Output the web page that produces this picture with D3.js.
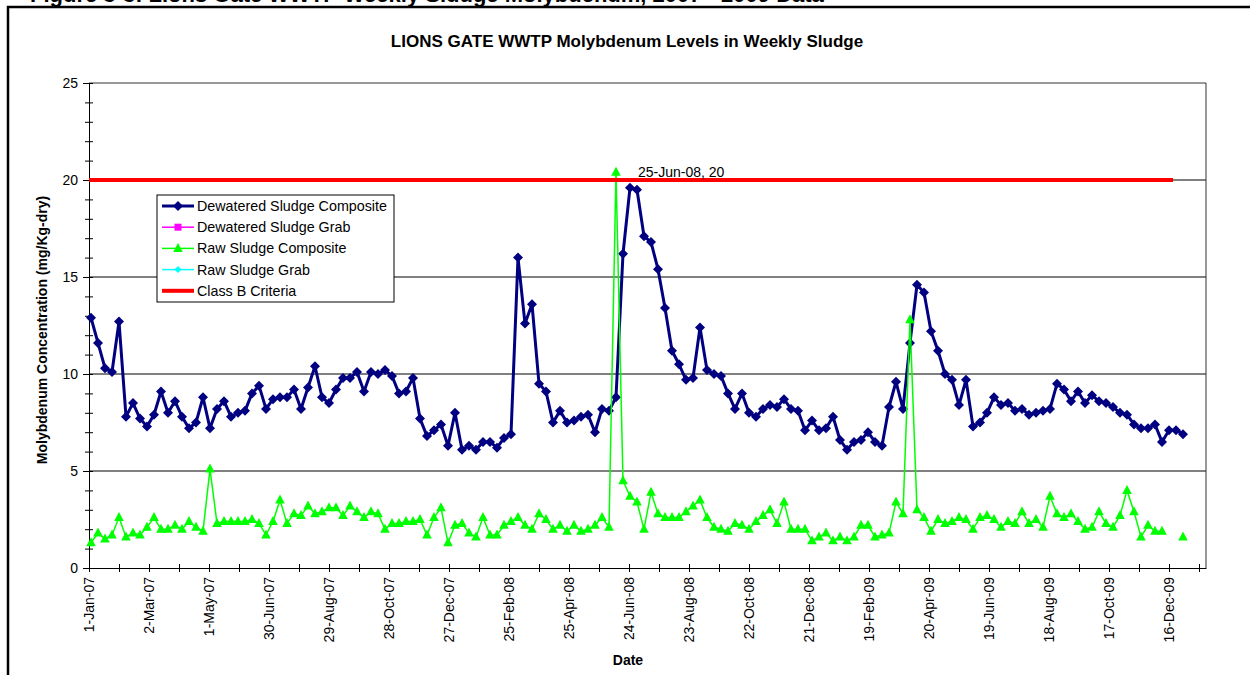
<!DOCTYPE html>
<html lang="en">
<head>
<meta charset="UTF-8">
<title>Lions Gate WWTP Molybdenum Levels</title>
<script src="https://d3js.org/d3.v7.min.js"></script>
<style>
  body { margin: 0; background: #fff; }
  svg { display: block; font-family: "Liberation Sans", Arial, sans-serif; }
</style>
</head>
<body>
<svg width="1250" height="675"></svg>
<script>
// weekly samples, first one taken Wed 3-Jan-07
const firstSample = "2007-01-03";

const dewateredComposite = [
  12.9, 11.6, 10.3, 10.1, 12.7, 7.8, 8.5, 7.7, 7.3, 7.9,
  9.1, 8.0, 8.6, 7.8, 7.2, 7.5, 8.8, 7.2, 8.2, 8.6,
  7.8, 8.0, 8.1, 9.0, 9.4, 8.2, 8.7, 8.8, 8.8, 9.2,
  8.2, 9.3, 10.4, 8.8, 8.5, 9.2, 9.8, 9.8, 10.1, 9.1,
  10.1, 10.0, 10.2, 9.9, 9.0, 9.1, 9.8, 7.7, 6.8, 7.1,
  7.4, 6.3, 8.0, 6.1, 6.3, 6.1, 6.5, 6.5, 6.2, 6.7,
  6.9, 16.0, 12.6, 13.6, 9.5, 9.1, 7.5, 8.1, 7.5, 7.6,
  7.8, 7.9, 7.0, 8.2, 8.1, 8.8, 16.2, 19.6, 19.5, 17.1,
  16.8, 15.4, 13.4, 11.2, 10.5, 9.7, 9.8, 12.4, 10.2, 10.0,
  9.9, 9.0, 8.2, 9.0, 8.0, 7.8, 8.2, 8.4, 8.3, 8.7,
  8.2, 8.1, 7.1, 7.6, 7.1, 7.2, 7.8, 6.6, 6.1, 6.5,
  6.6, 7.0, 6.5, 6.3, 8.3, 9.6, 8.2, 11.6, 14.6, 14.2,
  12.2, 11.2, 10.0, 9.7, 8.4, 9.7, 7.3, 7.5, 8.0, 8.8,
  8.4, 8.5, 8.1, 8.2, 7.9, 8.0, 8.1, 8.2, 9.5, 9.2,
  8.6, 9.1, 8.5, 8.9, 8.6, 8.5, 8.3, 8.0, 7.9, 7.4,
  7.2, 7.2, 7.4, 6.5, 7.1, 7.1, 6.9
];

const rawComposite = [
  1.3, 1.8, 1.5, 1.7, 2.6, 1.6, 1.8, 1.7, 2.1, 2.6,
  2.0, 2.0, 2.2, 2.0, 2.4, 2.1, 1.9, 5.1, 2.3, 2.4,
  2.4, 2.4, 2.4, 2.5, 2.3, 1.7, 2.4, 3.5, 2.3, 2.8,
  2.7, 3.2, 2.8, 2.9, 3.1, 3.1, 2.7, 3.2, 2.9, 2.6,
  2.9, 2.8, 2.0, 2.3, 2.3, 2.4, 2.4, 2.5, 1.7, 2.6,
  3.1, 1.3, 2.2, 2.3, 1.8, 1.6, 2.6, 1.7, 1.7, 2.2,
  2.4, 2.6, 2.2, 2.0, 2.8, 2.5, 2.0, 2.2, 1.9, 2.2,
  1.9, 2.0, 2.2, 2.6, 2.1, 20.4, 4.5, 3.7, 3.4, 2.0,
  3.9, 2.8, 2.6, 2.6, 2.6, 2.9, 3.2, 3.5, 2.6, 2.1,
  2.0, 1.9, 2.3, 2.2, 2.0, 2.4, 2.7, 3.0, 2.3, 3.4,
  2.0, 2.0, 2.0, 1.4, 1.6, 1.8, 1.4, 1.6, 1.4, 1.6,
  2.2, 2.2, 1.6, 1.7, 1.8, 3.4, 2.8, 12.8, 3.0, 2.6,
  1.9, 2.5, 2.3, 2.4, 2.6, 2.5, 2.0, 2.6, 2.7, 2.5,
  2.1, 2.4, 2.3, 2.9, 2.3, 2.5, 2.1, 3.7, 2.8, 2.6,
  2.8, 2.4, 2.0, 2.1, 2.9, 2.3, 2.1, 2.7, 4.0, 2.9,
  1.6, 2.2, 1.9, 1.9, null, null, 1.6
];

// grab samples: no values in this period
const dewateredGrab = [];
const rawGrab = [];

const classBDates = ["2007-01-01", "2009-12-20"];
const classBValues = [20, 20];

const legendNames = ["Dewatered Sludge Composite", "Dewatered Sludge Grab",
  "Raw Sludge Composite", "Raw Sludge Grab", "Class B Criteria"];

const yTickValues = [0, 5, 10, 15, 20, 25];
const spikeLabel = "25-Jun-08, 20";

const svg = d3.select("svg");
const parse = d3.timeParse("%Y-%m-%d");
const axisStart = parse("2007-01-01");
const axisEnd = d3.timeDay.offset(axisStart, 1117);

const x = d3.scaleTime().domain([axisStart, axisEnd]).range([89, 1206]);
const y = d3.scaleLinear().domain([0, 25]).range([568, 83]);

const start = parse(firstSample);
const dates = dewateredComposite.map((_, i) => d3.timeDay.offset(start, 7 * i));

// outer frame (cut off at the window edge) and the clipped caption above it
svg.append("text").attr("x", 30).attr("y", 2)
  .attr("font-size", 22).attr("font-weight", "bold")
  .text("Figure 3-3: Lions Gate WWTP Weekly Sludge Molybdenum, 2007 - 2009 Data");
svg.append("path").attr("d", "M8,680V7H1255")
  .attr("fill", "none").attr("stroke", "#000").attr("stroke-width", 2.5);

svg.append("text").attr("x", 627).attr("y", 47)
  .attr("text-anchor", "middle").attr("font-size", 17).attr("font-weight", "bold")
  .text("LIONS GATE WWTP Molybdenum Levels in Weekly Sludge");

// gridlines + plot border
svg.append("g").selectAll("line").data([5, 10, 15, 20]).join("line")
  .attr("x1", 89).attr("x2", 1206)
  .attr("y1", d => y(d)).attr("y2", d => y(d))
  .attr("stroke", "#000").attr("stroke-width", 1);
svg.append("path").attr("d", `M89,${y(25)}H1206V${y(0)}`)
  .attr("fill", "none").attr("stroke", "#333").attr("stroke-width", 1);

// y axis
const yAxis = svg.append("g").attr("transform", "translate(89,0)")
  .call(d3.axisLeft(y).tickValues(d3.range(0, 26))
    .tickFormat(d => yTickValues.includes(d) ? d : "").tickSizeOuter(0));
yAxis.select(".domain").attr("stroke", "#000");
yAxis.selectAll(".tick line").attr("x1", d => d % 5 === 0 ? -6 : -4).attr("x2", 4);
yAxis.selectAll(".tick text").attr("x", -11).attr("font-size", 14)
  .attr("font-family", "Liberation Sans, Arial, sans-serif");

// x axis
const xTicks = d3.range(0, 1117, 30).map(d => d3.timeDay.offset(axisStart, d));
const fmt = d3.timeFormat("%-d-%b-%y");
const xAxis = svg.append("g").attr("transform", `translate(0,${y(0)})`)
  .call(d3.axisBottom(x).tickValues(xTicks)
    .tickFormat((d, i) => i % 2 === 0 ? fmt(d) : "").tickSizeOuter(0));
xAxis.select(".domain").attr("stroke", "#000");
xAxis.selectAll(".tick line").attr("y1", -4).attr("y2", 4);
xAxis.selectAll(".tick text")
  .attr("transform", "rotate(-90)").attr("text-anchor", "end")
  .attr("x", -9).attr("y", 0).attr("dy", "0.35em").attr("font-size", 14)
  .attr("font-family", "Liberation Sans, Arial, sans-serif");

svg.append("text").attr("x", 628).attr("y", 665).attr("text-anchor", "middle")
  .attr("font-size", 14).attr("font-weight", "bold").text("Date");
svg.append("text").attr("transform", "translate(47,330) rotate(-90)")
  .attr("text-anchor", "middle").attr("font-size", 14).attr("font-weight", "bold")
  .text("Molybdenum Concentration (mg/Kg-dry)");

// marker shapes
const diamond = r => `M0,${-r}L${r},0L0,${r}L${-r},0Z`;
const triangle = "M0,-5.5L4.8,3.5L-4.8,3.5Z";
const square = "M-3.5,-3.5H3.5V3.5H-3.5Z";

const line = d3.line().defined(d => d.v != null).x(d => x(d.t)).y(d => y(d.v));

const dew = dates.map((t, i) => ({ t, v: dewateredComposite[i] }));
const raw = dates.map((t, i) => ({ t, v: rawComposite[i] }));

svg.append("path").datum(dew).attr("d", line)
  .attr("fill", "none").attr("stroke", "#000080").attr("stroke-width", 3)
  .attr("stroke-linejoin", "round");
svg.append("g").selectAll("path").data(dew).join("path")
  .attr("transform", d => `translate(${x(d.t)},${y(d.v)})`)
  .attr("d", diamond(5)).attr("fill", "#000080");

svg.append("path").datum(raw).attr("d", line)
  .attr("fill", "none").attr("stroke", "#00ff00").attr("stroke-width", 1.5);
svg.append("g").selectAll("path").data(raw.filter(d => d.v != null)).join("path")
  .attr("transform", d => `translate(${x(d.t)},${y(d.v)})`)
  .attr("d", triangle).attr("fill", "#00ff00");

// class B criteria
const classB = classBDates.map((d, i) => ({ t: parse(d), v: classBValues[i] }));
svg.append("path").datum(classB).attr("d", line)
  .attr("fill", "none").attr("stroke", "#ff0000").attr("stroke-width", 4);

// data label on the raw spike
const peak = raw.reduce((a, b) => (b.v != null && b.v > a.v ? b : a));
svg.append("text").attr("x", x(peak.t) + 22).attr("y", y(peak.v) + 5)
  .attr("font-size", 14).text(spikeLabel);

// legend
const legendStyles = [
  { color: "#000080", width: 3, mark: diamond(5) },
  { color: "#ff00ff", width: 1.5, mark: square },
  { color: "#00ff00", width: 1.5, mark: triangle },
  { color: "#00ffff", width: 1.5, mark: diamond(3.5) },
  { color: "#ff0000", width: 4, mark: null }
];
const lg = svg.append("g").attr("transform", "translate(157,195)");
lg.append("rect").attr("width", 237).attr("height", 107)
  .attr("fill", "#fff").attr("stroke", "#000").attr("stroke-width", 1);
legendNames.forEach((name, i) => {
  const s = legendStyles[i];
  const ly = 11 + i * 21.2;
  lg.append("line").attr("x1", 5).attr("x2", 37).attr("y1", ly).attr("y2", ly)
    .attr("stroke", s.color).attr("stroke-width", s.width);
  if (s.mark) lg.append("path").attr("transform", `translate(21,${ly})`)
    .attr("d", s.mark).attr("fill", s.color);
  lg.append("text").attr("x", 40).attr("y", ly).attr("dy", "0.35em")
    .attr("font-size", 14.3).text(name);
});
</script>
</body>
</html>
